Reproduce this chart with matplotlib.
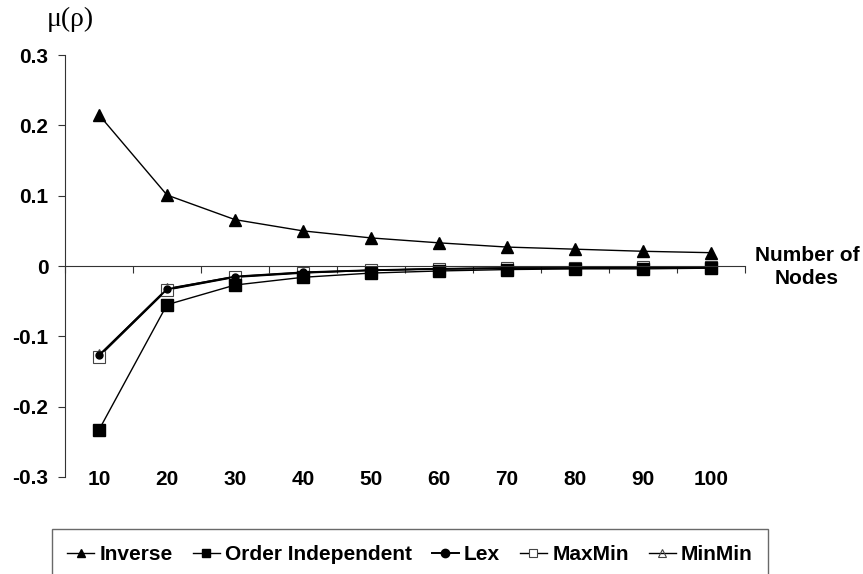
import matplotlib
matplotlib.use("Agg")
import matplotlib.pyplot as plt
import numpy as np

nodes = [10, 20, 30, 40, 50, 60, 70, 80, 90, 100]
inverse = [0.215, 0.101, 0.066, 0.050, 0.040, 0.033, 0.027, 0.024, 0.021, 0.019]
order_indep = [-0.233, -0.055, -0.027, -0.016, -0.010, -0.007, -0.005, -0.004, -0.004, -0.003]
lex = [-0.127, -0.033, -0.015, -0.009, -0.006, -0.004, -0.003, -0.003, -0.002, -0.002]
maxmin = [-0.129, -0.034, -0.016, -0.010, -0.006, -0.004, -0.003, -0.003, -0.002, -0.002]
minmin = [-0.127, -0.032, -0.015, -0.009, -0.006, -0.004, -0.003, -0.003, -0.002, -0.002]
yticks = [-0.3, -0.2, -0.1, 0, 0.1, 0.2, 0.3]
ytick_labels = ['-0.3', '-0.2', '-0.1', '0', '0.1', '0.2', '0.3']

fig = plt.figure(figsize=(8.63, 5.74), dpi=100)
ax = fig.add_axes([0.0753, 0.169, 0.788, 0.735])

xs = np.arange(len(nodes))
ax.plot(xs, inverse, color='black', lw=1, marker='^', ms=9, mfc='black', mec='black', label='Inverse')
ax.plot(xs, order_indep, color='black', lw=1, marker='s', ms=8, mfc='black', mec='black', label='Order Independent')
ax.plot(xs, lex, color='black', lw=1.4, marker='o', ms=5, mfc='black', mec='black', label='Lex')
ax.plot(xs, maxmin, color='black', lw=1, marker='s', ms=8, mfc='white', mec='#444444', mew=0.8, label='MaxMin', zorder=1.9)
ax.plot(xs, minmin, color='black', lw=1, marker='^', ms=8, mfc='none', mec='#444444', mew=0.8, label='MinMin', zorder=1.8)

ax.set_xlim(-0.5, len(nodes) - 0.5)
ax.set_ylim(-0.3, 0.3)

for s in ['top', 'right']:
    ax.spines[s].set_visible(False)
ax.spines['bottom'].set_position(('data', 0))
ax.spines['left'].set_color('#333333')
ax.spines['bottom'].set_color('#333333')

# category boundaries on the zero line
ax.set_xticks(np.arange(len(nodes) + 1) - 0.5)
ax.set_xticklabels([])
ax.tick_params(axis='x', direction='out', length=5, color='#333333')

ax.set_yticks(yticks)
ax.set_yticklabels(ytick_labels)
ax.tick_params(axis='y', direction='out', length=5, color='#333333', pad=7)
for lab in ax.get_yticklabels():
    lab.set_fontweight('bold')
    lab.set_fontsize(15)
    lab.set_family('Liberation Sans')

# category labels sit at the bottom of the plot area
sec = ax.secondary_xaxis(0)
sec.set_xticks(xs)
sec.set_xticklabels([str(n) for n in nodes])
sec.spines['bottom'].set_visible(False)
sec.tick_params(axis='x', length=0, pad=-5)
for lab in sec.get_xticklabels():
    lab.set_fontweight('bold')
    lab.set_fontsize(15)
    lab.set_family('Liberation Sans')

fig.text(0.082, 0.967, 'μ(ρ)', family='Liberation Serif', fontsize=20, ha='center', va='center')
fig.text(0.935, 0.535, 'Number of\nNodes', family='Liberation Sans', fontweight='bold',
         fontsize=15, ha='center', va='center', linespacing=1.3)

leg = fig.legend(loc='upper center', bbox_to_anchor=(0.475, 0.0958), ncol=5, frameon=True,
                 fancybox=False, edgecolor='#444444', handlelength=1.3, handletextpad=0.25,
                 columnspacing=0.95, borderpad=0.75,
                 prop={'family': 'Liberation Sans', 'weight': 'bold', 'size': 15})
leg.get_frame().set_linewidth(1.0)
for h in leg.legend_handles:
    h.set_markersize(6)

fig.savefig('out.png', dpi=100)
